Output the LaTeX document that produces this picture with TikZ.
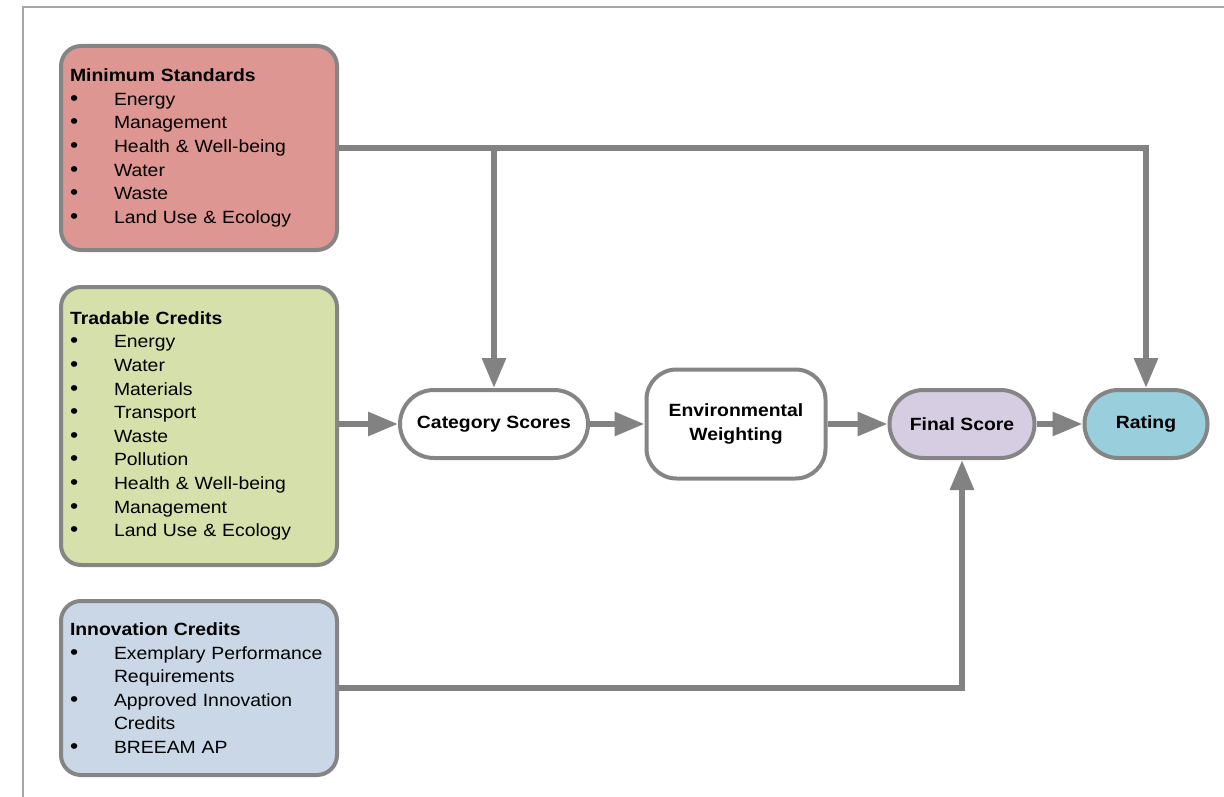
\documentclass[tikz,border=0pt]{standalone}
\usepackage{fontspec}
\setmainfont{Liberation Sans}[FakeStretch=1.095]
\usetikzlibrary{arrows.meta}
\definecolor{minred}{HTML}{DD9691}
\definecolor{tradegreen}{HTML}{D6E0AA}
\definecolor{innovblue}{HTML}{C9D7E6}
\definecolor{finallilac}{HTML}{D6CDE2}
\definecolor{ratingteal}{HTML}{99CEDD}
\definecolor{edgegray}{HTML}{858585}
\definecolor{flowgray}{HTML}{828282}
\def\bul{\makebox[44pt][l]{\scalebox{1.2}{\textbullet}}}
\def\ind{\hspace*{44pt}}
\tikzset{
  card/.style={draw=edgegray, line width=4pt, rounded corners=20pt, anchor=north west,
    align=left, text width=258pt, inner xsep=9pt, inner ysep=0pt,
    font=\fontsize{17.7}{23.6}\selectfont},
  pill/.style={draw=edgegray, line width=4pt, rounded corners=34pt, fill=white,
    align=center, inner sep=0pt, minimum height=68pt,
    font=\fontsize{17.7}{24}\selectfont\bfseries},
  flow/.style={draw=flowgray, line width=6pt, -{Triangle[length=30pt,width=23pt]}}
}

\begin{document}
\begin{tikzpicture}[x=1pt,y=-1pt]
\useasboundingbox (0,0) rectangle (1224,797);
\draw[black!35, line width=1.3pt] (23,797) -- (23,7) -- (1224,7);

\node[card, fill=minred, minimum height=204pt] (minstd) at (59,44)
  {\textbf{Minimum Standards}\\
   \bul Energy\\ \bul Management\\ \bul Health \& Well-being\\
   \bul Water\\ \bul Waste\\ \bul Land Use \& Ecology};
\node[card, fill=tradegreen, minimum height=278pt] (trade) at (59,285)
  {\textbf{Tradable Credits}\\
   \bul Energy\\ \bul Water\\ \bul Materials\\ \bul Transport\\ \bul Waste\\
   \bul Pollution\\ \bul Health \& Well-being\\ \bul Management\\
   \bul Land Use \& Ecology};
\node[card, fill=innovblue, minimum height=174pt] (innov) at (59,599)
  {\textbf{Innovation Credits}\\
   \bul Exemplary Performance\\ \ind Requirements\\
   \bul Approved Innovation\\ \ind Credits\\ \bul BREEAM AP};

\node[pill, minimum width=188pt] (catscore) at (494,424) {Category Scores};
\node[pill, minimum width=179pt, minimum height=109pt, rounded corners=30pt] (envweight) at (736,424) {Environmental\\Weighting};
\node[pill, fill=finallilac, minimum width=145pt] (final) at (962,424) {Final Score};
\node[pill, fill=ratingteal, minimum width=123pt] (rating) at (1146,424) {Rating};

\draw[flow] (minstd.east) -| (rating.north);
\draw[flow] (minstd.east -| catscore.north) -- (catscore.north);
\draw[flow] (catscore.west -| trade.east) -- (catscore.west);
\draw[flow] (catscore.east) -- (envweight.west);
\draw[flow] (envweight.east) -- (final.west);
\draw[flow] (final.east) -- (rating.west);
\draw[flow] (innov.east) -| (final.south);
\end{tikzpicture}
\end{document}
